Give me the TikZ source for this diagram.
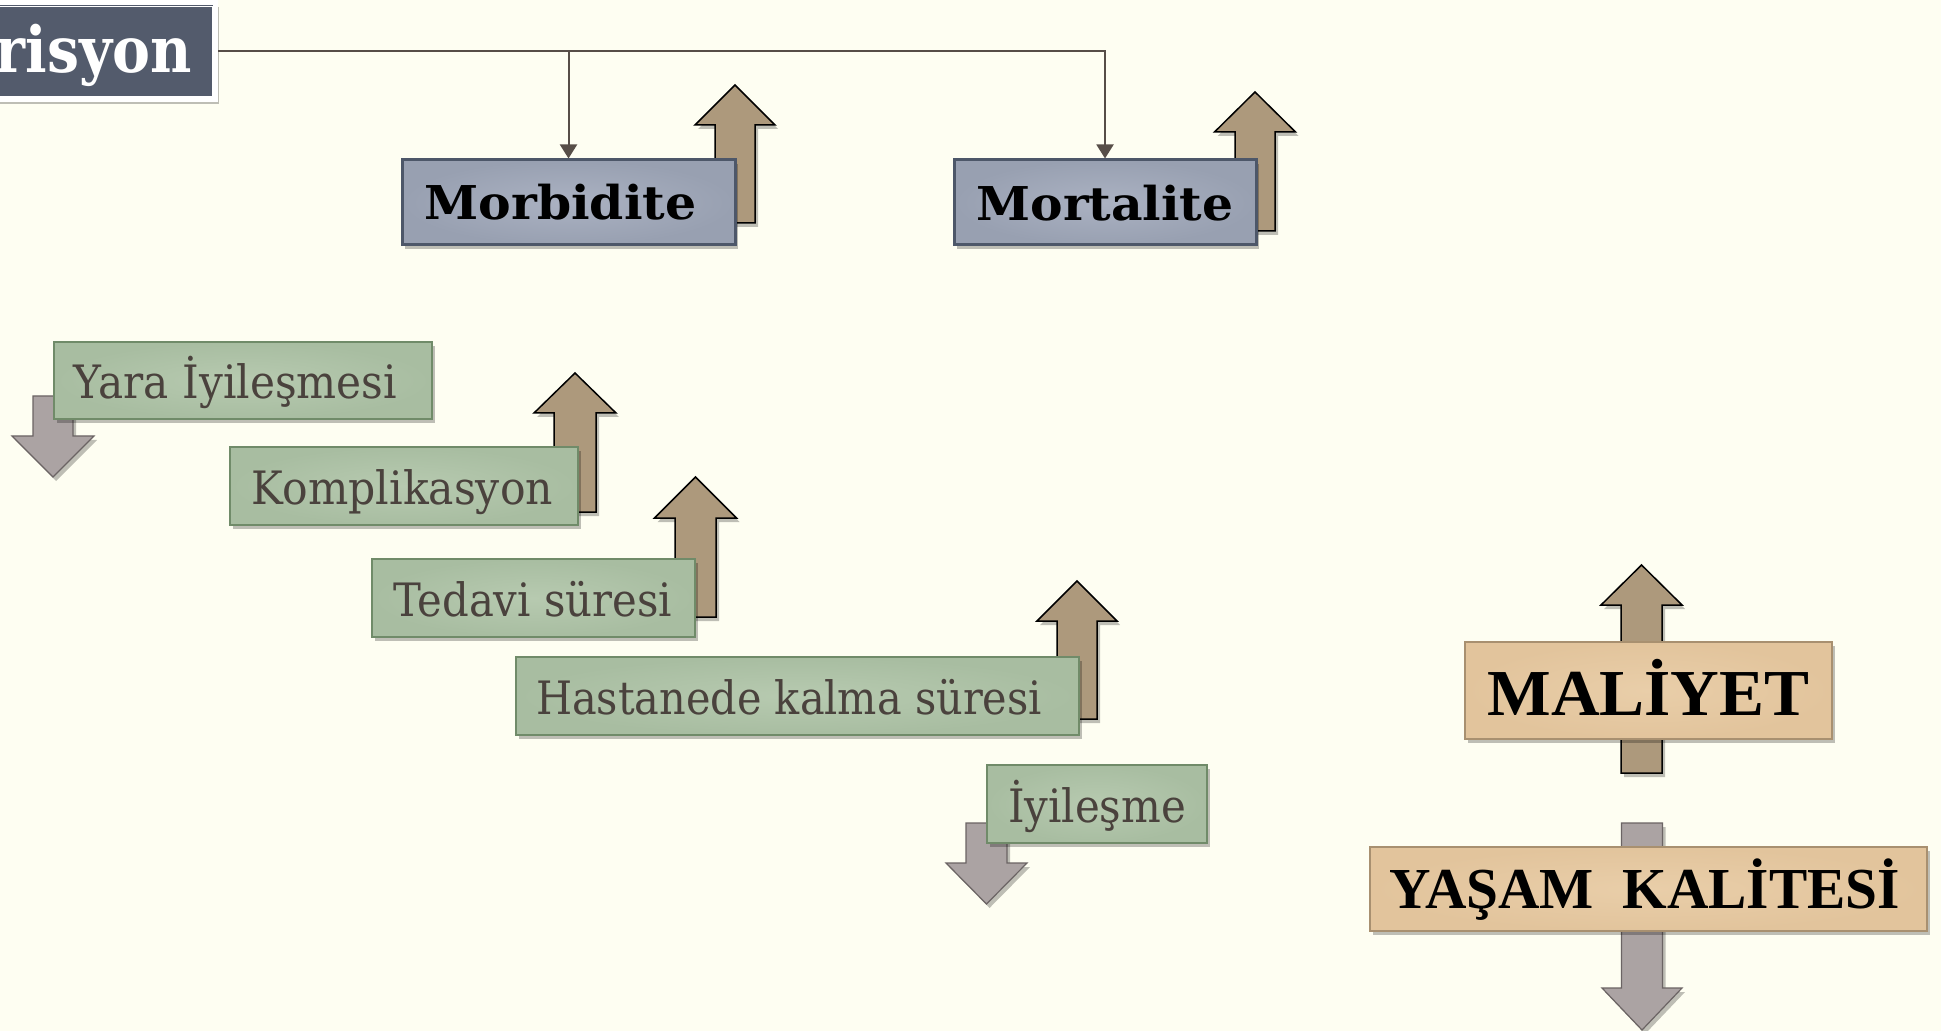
\documentclass[tikz,border=0pt]{standalone}
\usepackage{graphicx}
\usepackage{fontspec}
\setmainfont{DejaVu Serif}
\newfontfamily\tnrfont{Liberation Serif}
\usetikzlibrary{arrows.meta,shadows}
\definecolor{bgc}{HTML}{FEFEF2}
\definecolor{lineC}{HTML}{574E48}
\definecolor{srcFill}{HTML}{535B6C}
\definecolor{slateB}{HTML}{4D5769}
\definecolor{slateIn}{HTML}{ABB2C2}
\definecolor{slateOut}{HTML}{98A0B1}
\definecolor{brownA}{HTML}{AD997C}
\definecolor{grayA}{HTML}{ABA3A3}
\definecolor{grayB}{HTML}{6B6464}
\definecolor{greenIn}{HTML}{B7CAB0}
\definecolor{greenOut}{HTML}{A8BDA1}
\definecolor{greenB}{HTML}{708B69}
\definecolor{greenT}{HTML}{4A423D}
\definecolor{tanIn}{HTML}{E9CEA9}
\definecolor{tanOut}{HTML}{E2C49C}
\definecolor{tanB}{HTML}{A89070}
\newcommand{\fitw}[2]{\resizebox{#1}{\height}{#2}}
\newcommand{\padr}[1]{\rule{#1}{0pt}}
\newcommand{\blkarrow}[7]{%
  \path[#1] (#2,#3) -- ({#2+#6},#4) -- ({#2+#5},#4) -- ({#2+#5},#7)
    -- ({#2-#5},#7) -- ({#2-#5},#4) -- ({#2-#6},#4) -- cycle;}
\tikzset{
  softshadow/.style={drop shadow={shadow xshift=1.5pt, shadow yshift=-2pt, opacity=0.25, fill=black}},
  conn/.style={draw=lineC, line width=1pt, -{Triangle[length=7pt,width=8.5pt]}},
  brownarr/.style={fill=brownA, draw=black, line width=0.75pt, softshadow},
  grayarr/.style={fill=grayA, draw=grayB, line width=0.6pt, softshadow},
  srcbox/.style={fill=srcFill, draw=white, line width=2.5pt, text=white, softshadow,
    font=\fontsize{31.8pt}{36pt}\selectfont\bfseries, inner sep=0pt},
  slatebox/.style={draw=slateB, line width=1.5pt, inner color=slateIn, outer color=slateOut,
    minimum height=42.5pt, inner sep=0pt, text height=17.5pt, text depth=0pt,
    font=\fontsize{23.3pt}{28pt}\selectfont\bfseries, softshadow},
  greenbox/.style={draw=greenB, line width=0.9pt, inner color=greenIn, outer color=greenOut,
    minimum height=39pt, inner sep=0pt, text height=18pt, text depth=0pt, text=greenT,
    font=\fontsize{23pt}{28pt}\selectfont, softshadow},
  tanbox/.style={draw=tanB, line width=0.75pt, inner color=tanIn, outer color=tanOut,
    inner sep=0pt, text depth=0pt, font=\tnrfont\bfseries, softshadow}
}
\begin{document}
\begin{tikzpicture}[x=0.5pt,y=-0.5pt]
\fill[bgc] (0,0) rectangle (1941,1031);
\useasboundingbox (0,0) rectangle (1941,1031);

% block arrows (behind the boxes)
\blkarrow{brownarr}{735}{85}{125}{20}{40}{223}
\blkarrow{brownarr}{1255}{92}{132}{20}{40.5}{231}
\blkarrow{grayarr}{53}{477}{436}{20}{41}{396}
\blkarrow{brownarr}{575}{373}{413}{21}{41}{512}
\blkarrow{brownarr}{695.5}{477}{518}{20.5}{41}{617}
\blkarrow{brownarr}{1077}{581}{621}{20}{40}{719}
\blkarrow{grayarr}{986.5}{904}{863}{20.5}{40.5}{823}
\blkarrow{brownarr}{1641.5}{565}{605}{20.5}{40.5}{773}
\blkarrow{grayarr}{1642}{1030}{988}{20.5}{40}{823}

% source box (cut by the left edge)
\node[srcbox, anchor=east, minimum height=48.5pt, text width=110pt, align=right,
  inner xsep=12pt, text height=21.5pt, text depth=0pt] (src) at (218,51.5) {\fitw{98pt}{risyon}};
\draw[white, line width=0.5pt] ([shift={(3pt,3pt)}]src.south west) rectangle ([shift={(-3pt,-3pt)}]src.north east);

% outcome boxes
\node[slatebox, minimum width=166.5pt] (morb) at (568.5,202.5) {\fitw{136pt}{Morbidite}\padr{8pt}};
\node[slatebox, minimum width=151pt, text height=18.5pt] (mort) at (1105,202.5) {\fitw{128.5pt}{Mortalite}};

% green boxes
\node[greenbox, minimum width=189pt, minimum height=38.5pt] (yara) at (243,380.5) {\fitw{161.5pt}{Yara İyileşmesi}\padr{7.5pt}};
\node[greenbox, minimum width=174pt] (komp) at (404,486) {\fitw{150.5pt}{Komplikasyon}\padr{1.5pt}};
\node[greenbox, minimum width=161.5pt] (tedavi) at (533.5,598) {\fitw{139.5pt}{Tedavi süresi}\padr{1pt}};
\node[greenbox, minimum width=281.5pt] (hast) at (797.5,696) {\fitw{253pt}{Hastanede kalma süresi}\padr{8.5pt}};
\node[greenbox, minimum width=110pt] (iyi) at (1097,804) {\fitw{89pt}{İyileşme}};

% tan boxes
\node[tanbox, minimum width=183.5pt, minimum height=48.5pt, text height=24.5pt,
  font=\tnrfont\bfseries\fontsize{32.8pt}{38pt}\selectfont] (mal) at (1648.5,690.5) {\fitw{161pt}{MALİYET}};
\node[tanbox, minimum width=278.5pt, minimum height=42pt, text height=19pt,
  font=\tnrfont\bfseries\fontsize{29pt}{34pt}\selectfont] (yasam) at (1648.5,889) {\fitw{255.5pt}{YAŞAM\ \ KALİTESİ}\padr{4pt}};

% connectors
\draw[conn] (src.east) -| (mort.north);
\draw[conn] (src.east -| morb.north) -- (morb.north);
\end{tikzpicture}
\end{document}
